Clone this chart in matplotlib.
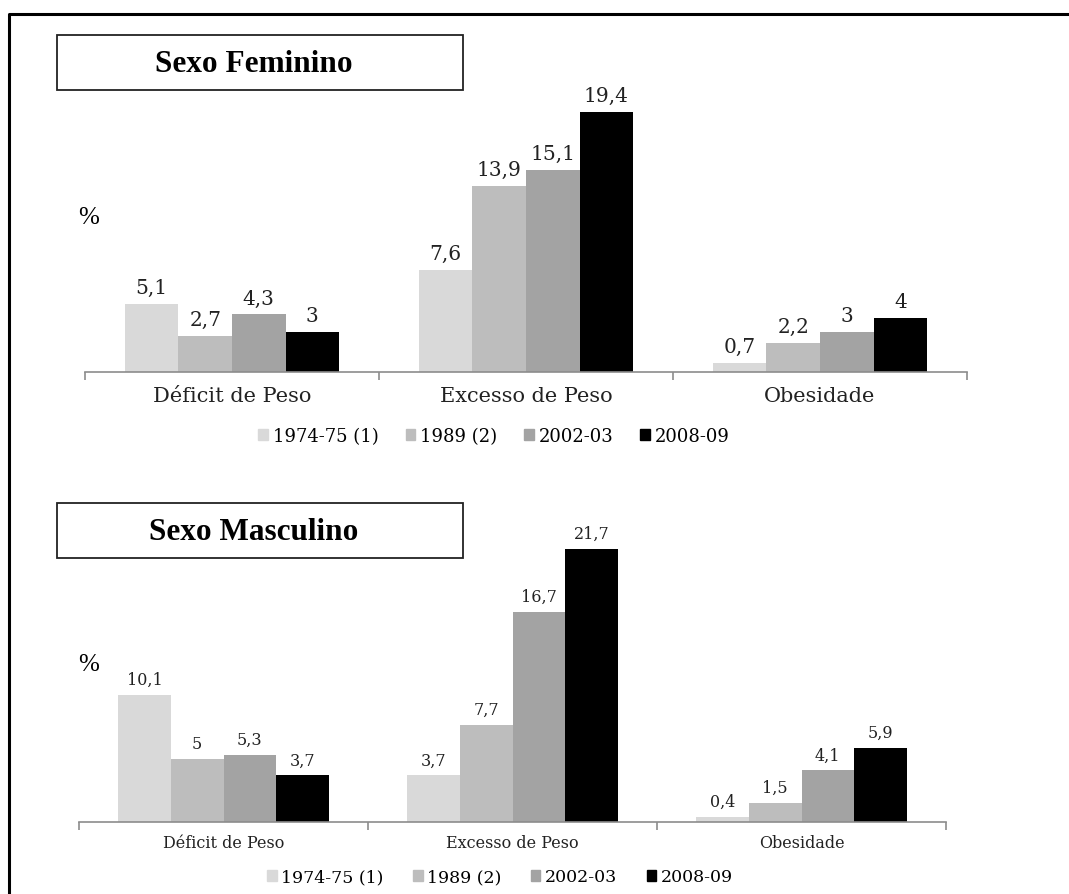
import numpy as np
import matplotlib
matplotlib.use('Agg')
import matplotlib.pyplot as plt
from matplotlib.patches import Rectangle
from matplotlib.lines import Line2D

# Data
categories = ['Déficit de Peso', 'Excesso de Peso', 'Obesidade']
periods = ['1974-75 (1)', '1989 (2)', '2002-03', '2008-09']
feminino = {
    '1974-75 (1)': [5.1, 7.6, 0.7],
    '1989 (2)': [2.7, 13.9, 2.2],
    '2002-03': [4.3, 15.1, 3.0],
    '2008-09': [3.0, 19.4, 4.0],
}
masculino = {
    '1974-75 (1)': [10.1, 3.7, 0.4],
    '1989 (2)': [5.0, 7.7, 1.5],
    '2002-03': [5.3, 16.7, 4.1],
    '2008-09': [3.7, 21.7, 5.9],
}

colors = ['#d9d9d9', '#bdbdbd', '#a3a3a3', '#000000']
axis_color = '#8c8c8c'
text_font = ['DejaVu Serif']
title_font = ['Liberation Serif', 'DejaVu Serif']

W, H = 1069, 895
fig = plt.figure(figsize=(W / 100, H / 100), dpi=100)
fig.patch.set_facecolor('white')


def fx(px):
    return px / W


def fy(py):
    return 1 - py / H


def fmt(v):
    return f'{v:g}'.replace('.', ',')


def draw_panel(ax, data, ymax, fs_val, fs_cat, cat_pad):
    x = np.arange(len(categories))
    width = 0.182
    for i, (p, c) in enumerate(zip(periods, colors)):
        offs = (i - 1.5) * width
        bars = ax.bar(x + offs, data[p], width, color=c, edgecolor='none', label=p)
        for b, v in zip(bars, data[p]):
            ax.annotate(fmt(v), (b.get_x() + b.get_width() / 2, b.get_height()),
                        xytext=(0, 5), textcoords='offset points',
                        ha='center', va='bottom', fontsize=fs_val,
                        family=text_font, color='#222222')
    ax.set_xlim(-0.5, len(categories) - 0.5)
    ax.set_ylim(0, ymax)
    ax.set_yticks([])
    for s in ['top', 'right', 'left']:
        ax.spines[s].set_visible(False)
    ax.spines['bottom'].set_color(axis_color)
    ax.spines['bottom'].set_linewidth(1.2)
    ax.set_xticks(x)
    ax.set_xticklabels(categories, fontsize=fs_cat, family=text_font, color='#222222')
    ax.tick_params(axis='x', which='major', length=0, pad=cat_pad)
    ax.set_xticks(np.arange(-0.5, len(categories), 1.0), minor=True)
    ax.tick_params(axis='x', which='minor', length=6, width=1.2,
                   color=axis_color, direction='out')
    ax.set_facecolor('none')


# Top panel: Sexo Feminino
ax1 = fig.add_axes([fx(85), fy(373), fx(967) - fx(85), 20 * 13.4 / H])
draw_panel(ax1, feminino, 20, 14.5, 15, 10)

# Bottom panel: Sexo Masculino
ax2 = fig.add_axes([fx(79), fy(823), fx(946) - fx(79), 23 * 12.6 / H])
draw_panel(ax2, masculino, 23, 11.5, 11.5, 9)

# Legends
handles = [Rectangle((0, 0), 1, 1, color=c) for c in colors]
fig.legend(handles, periods, loc='center', bbox_to_anchor=(fx(494), fy(437)),
           ncol=4, frameon=False, prop={'family': text_font, 'size': 13},
           handlelength=0.55, handleheight=0.55, handletextpad=0.25, columnspacing=1.5)
fig.legend(handles, periods, loc='center', bbox_to_anchor=(fx(500), fy(878)),
           ncol=4, frameon=False, prop={'family': text_font, 'size': 12.5},
           handlelength=0.55, handleheight=0.55, handletextpad=0.25, columnspacing=1.7)

# Title boxes
for title, top in [('Sexo Feminino', 36), ('Sexo Masculino', 504)]:
    fig.patches.append(Rectangle((fx(57), fy(top + 55)), fx(463) - fx(57), 55 / H,
                                 transform=fig.transFigure, facecolor='white',
                                 edgecolor='#222222', linewidth=1.3, zorder=3))
    fig.text(fx(254), fy(top + 29), title, ha='center', va='center',
             fontsize=22.5, fontweight='bold', family=title_font, zorder=4)

# % labels
fig.text(fx(89), fy(218), '%', ha='center', va='center', fontsize=18, family=title_font)
fig.text(fx(89), fy(665), '%', ha='center', va='center', fontsize=18, family=title_font)

# Outer frame (left and top edges visible)
fig.lines.append(Line2D([fx(9), fx(9), 1.0], [0.0, fy(15), fy(15)],
                        transform=fig.transFigure, color='black', linewidth=2.2))

fig.savefig('out.png', dpi=100, facecolor='white')
